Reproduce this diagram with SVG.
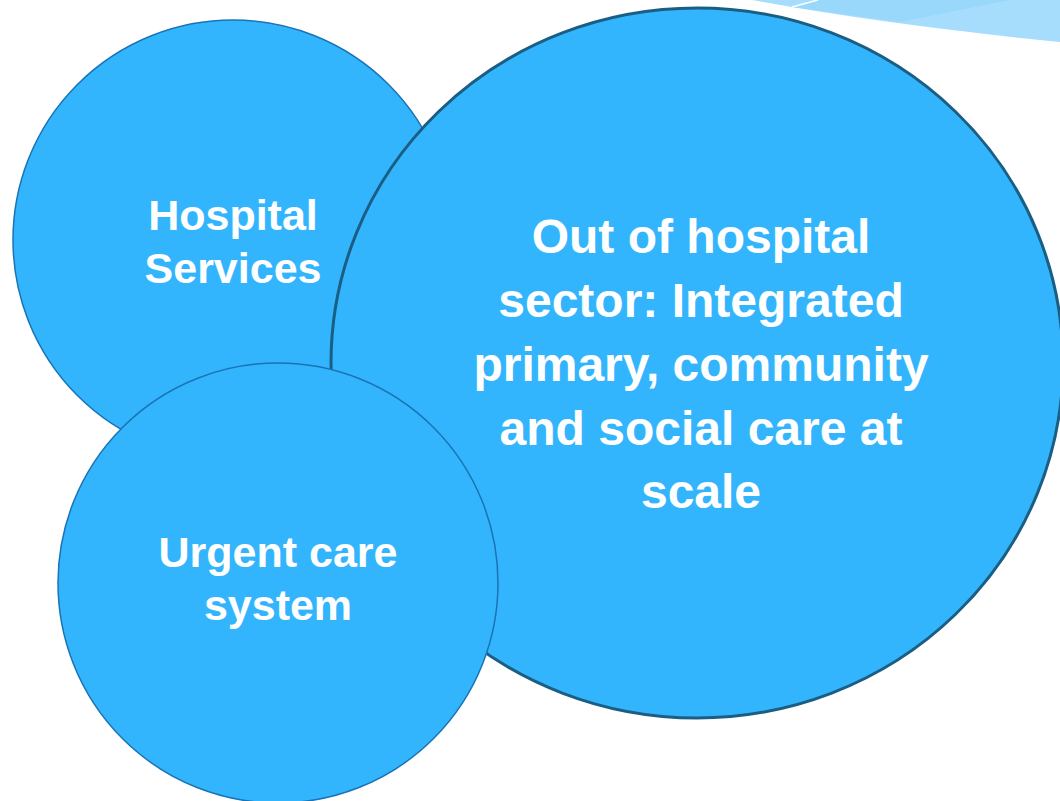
<svg xmlns="http://www.w3.org/2000/svg" width="1060" height="801" viewBox="0 0 1060 801">
  <style>
    .lbl { font-family: "Liberation Sans", Arial, sans-serif; font-weight: bold; fill: #ffffff; text-anchor: middle; }
    .small { font-size: 43px; }
    .big { font-size: 48px; }
    .circ { fill: #33b5fe; stroke: #1a73b5; stroke-width: 1.5; }
    .main { fill: #33b5fe; stroke: #1b5e83; stroke-width: 3; }
  </style>
  <rect width="1060" height="801" fill="#ffffff"/>
  <g id="decoration">
    <path d="M 752 0 Q 880 24 1060 42 L 1060 0 Z" fill="#a6ddfc"/>
    <path d="M 792 7 Q 850 15 900 22 L 1010 0 L 818 0 Z" fill="#9ad8fb"/>
    <line x1="792" y1="7" x2="818" y2="0" stroke="#ffffff" stroke-width="1.5"/>
  </g>
  <g id="connectors"></g>
  <g id="hospital">
    <circle class="circ" cx="233" cy="240" r="220"/>
    <text class="lbl small" x="233" y="230">Hospital</text>
    <text class="lbl small" x="233" y="283">Services</text>
  </g>
  <g id="out-of-hospital">
    <ellipse class="main" cx="697" cy="363" rx="366" ry="355"/>
    <text class="lbl big" x="701" y="253">Out of hospital</text>
    <text class="lbl big" x="701" y="317">sector: Integrated</text>
    <text class="lbl big" x="701" y="381">primary, community</text>
    <text class="lbl big" x="701" y="445">and social care at</text>
    <text class="lbl big" x="701" y="508">scale</text>
  </g>
  <g id="urgent">
    <circle class="circ" cx="278" cy="583" r="220"/>
    <text class="lbl small" x="278" y="567">Urgent care</text>
    <text class="lbl small" x="278" y="620">system</text>
  </g>
</svg>
